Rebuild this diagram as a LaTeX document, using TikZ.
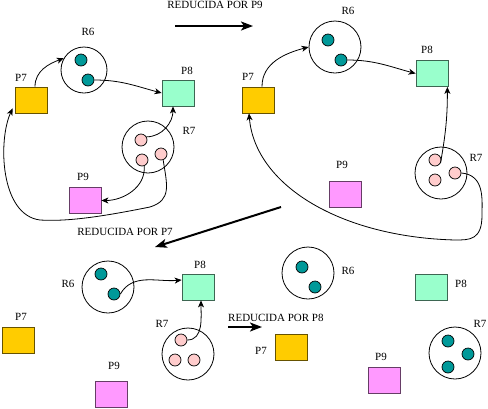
\documentclass[tikz,border=0pt]{standalone}
\usepackage{fontspec}
\setmainfont{Liberation Serif}
\usepackage{tikz}
\usetikzlibrary{calc,arrows.meta}
\definecolor{cP7}{HTML}{FFCC00}
\definecolor{cP8}{HTML}{99FFCC}
\definecolor{cP9}{HTML}{FF99FF}
\definecolor{cR6}{HTML}{009999}
\definecolor{cR7}{HTML}{FFCCCC}
\tikzset{
  proc/.style={rectangle,draw=#1!40!black,fill=#1,minimum width=32pt,minimum height=26pt,inner sep=0pt,line width=0.8pt},
  rec/.style={circle,draw,minimum size=52pt,inner sep=0pt,line width=0.8pt},
  inst/.style={circle,draw,fill=#1,minimum size=12pt,inner sep=0pt,line width=0.7pt},
  lbl/.style={font=\fontsize{11}{12}\selectfont,inner sep=0pt},
  asig/.style={-{Stealth[length=7pt,width=6pt,inset=2pt]},line width=0.8pt},
  paso/.style={-{Stealth[length=12pt,width=9pt,inset=3pt]},line width=2pt}
}
\begin{document}
\begin{tikzpicture}[x=1pt,y=1pt]
  \useasboundingbox (0,0) rectangle (488,-408);
  % grafo inicial
  \node[proc=cP7](p7a)at(31,-100){};
  \node[lbl](l7a)at(21,-78){P7};
  \node[rec,minimum size=46pt](r6a)at(84,-70){};
  \node[lbl](l6a)at(88,-32){R6};
  \node[inst=cR6](r6a1)at(81,-60){};
  \node[inst=cR6](r6a2)at(88,-80){};
  \node[proc=cP8](p8a)at(178,-93){};
  \node[lbl](l8a)at(187,-71){P8};
  \node[rec](r7a)at(148,-147){};
  \node[lbl](l7ra)at(189,-131){R7};
  \node[inst=cR7](r7a1)at(141,-140){};
  \node[inst=cR7](r7a2)at(142,-160){};
  \node[inst=cR7](r7a3)at(161,-154){};
  \node[proc=cP9](p9a)at(85,-200.5){};
  \node[lbl](l9a)at(83,-177){P9};
  \draw[asig]([xshift=4pt]p7a.north) to[out=90,in=200] (r6a.150);
  \draw[asig](r6a2.east) to[out=0,in=165] (p8a.west);
  \draw[asig](r7a1.30) to[out=0,in=-90] ([xshift=-5pt]p8a.south);
  \draw[asig](r7a2.-70) to[out=-85,in=0] (p9a.east);
  \draw[asig](r7a3.-70) .. controls (167,-185) and (172,-200) .. (150,-207)
    .. controls (110,-215) and (70,-222) .. (40,-220)
    .. controls (0,-215) and (-2,-140) .. ([xshift=-2pt,yshift=5pt]p7a.south west);
  % reducida por P9
  \node[lbl](t9)at(215,-5){REDUCIDA POR P9};
  \coordinate(a9)at(175,-26);
  \coordinate(b9)at(253,-26);
  \draw[paso](a9)--(b9);
  % grafo 2
  \node[proc=cP7](p7b)at(258,-100){};
  \node[lbl](l7b)at(248,-77){P7};
  \node[rec](r6b)at(335,-47){};
  \node[lbl](l6b)at(348,-11){R6};
  \node[inst=cR6](r6b1)at(328,-40){};
  \node[inst=cR6](r6b2)at(341,-60){};
  \node[proc=cP8](p8b)at(432,-73.5){};
  \node[lbl](l8b)at(427,-50){P8};
  \node[proc=cP9](p9b)at(345,-194){};
  \node[lbl](l9b)at(342,-165){P9};
  \node[rec](r7b)at(441,-173){};
  \node[lbl](l7rb)at(476,-158){R7};
  \node[inst=cR7](r7b1)at(435,-160){};
  \node[inst=cR7](r7b2)at(435,-180){};
  \node[inst=cR7](r7b3)at(455,-173){};
  \draw[asig]([xshift=4pt]p7b.north) to[out=90,in=195] (r6b.west);
  \draw[asig](r6b2.east) to[out=0,in=165] (p8b.west);
  \draw[asig](r7b1.-30) to[out=80,in=-90] ([xshift=-1pt]p8b.south east);
  \draw[asig](r7b3.east) .. controls (485,-175) and (482,-200) .. (482,-215)
    .. controls (482,-240) and (470,-240) .. (455,-240)
    .. controls (340,-237) and (255,-185) .. ([xshift=-9pt]p7b.south);
  % reducida por P7
  \node[lbl](t7)at(125,-232){REDUCIDA POR P7};
  \coordinate(a7)at(281,-207);
  \coordinate(b7)at(155,-247);
  \draw[paso](a7)--(b7);
  % grafo 3
  \node[rec](r6c)at(108,-287){};
  \node[lbl](l6c)at(68,-284){R6};
  \node[inst=cR6](r6c1)at(101,-274){};
  \node[inst=cR6](r6c2)at(114,-294){};
  \node[proc=cP8](p8c)at(198,-287){};
  \node[lbl](l8c)at(200,-265){P8};
  \node[proc=cP7](p7c)at(18,-340.5){};
  \node[lbl](l7c)at(21,-317){P7};
  \node[proc=cP9](p9c)at(111.5,-394){};
  \node[lbl](l9c)at(114,-366){P9};
  \node[rec](r7c)at(188,-354){};
  \node[lbl](l7rc)at(162,-324){R7};
  \node[inst=cR7](r7c1)at(181,-340){};
  \node[inst=cR7](r7c2)at(175,-360){};
  \node[inst=cR7](r7c3)at(194,-360){};
  \draw[asig](r6c2.east) to[out=60,in=185] ([yshift=7pt]p8c.west);
  \draw[asig](r7c1.east) to[out=0,in=-90] ([xshift=3pt]p8c.south);
  % reducida por P8
  \node[lbl,anchor=west](t8)at(228,-318){REDUCIDA POR P8};
  \coordinate(a8)at(228,-327);
  \coordinate(b8)at(262,-327);
  \draw[paso](a8)--(b8);
  % grafo final
  \node[rec](r6d)at(308,-273){};
  \node[lbl](l6d)at(348,-271){R6};
  \node[inst=cR6](r6d1)at(302,-267){};
  \node[inst=cR6](r6d2)at(315,-287){};
  \node[proc=cP8](p8d)at(431,-287){};
  \node[lbl](l8d)at(461,-284){P8};
  \node[proc=cP7](p7d)at(291,-347){};
  \node[lbl](l7d)at(261,-351){P7};
  \node[proc=cP9](p9d)at(384.5,-380.5){};
  \node[lbl](l9d)at(381,-357){P9};
  \node[rec](r7d)at(455,-353){};
  \node[lbl](l7rd)at(480,-324){R7};
  \node[inst=cR6](r7d1)at(448,-341){};
  \node[inst=cR6](r7d2)at(468,-354){};
  \node[inst=cR6](r7d3)at(448,-367){};
\end{tikzpicture}
\end{document}
